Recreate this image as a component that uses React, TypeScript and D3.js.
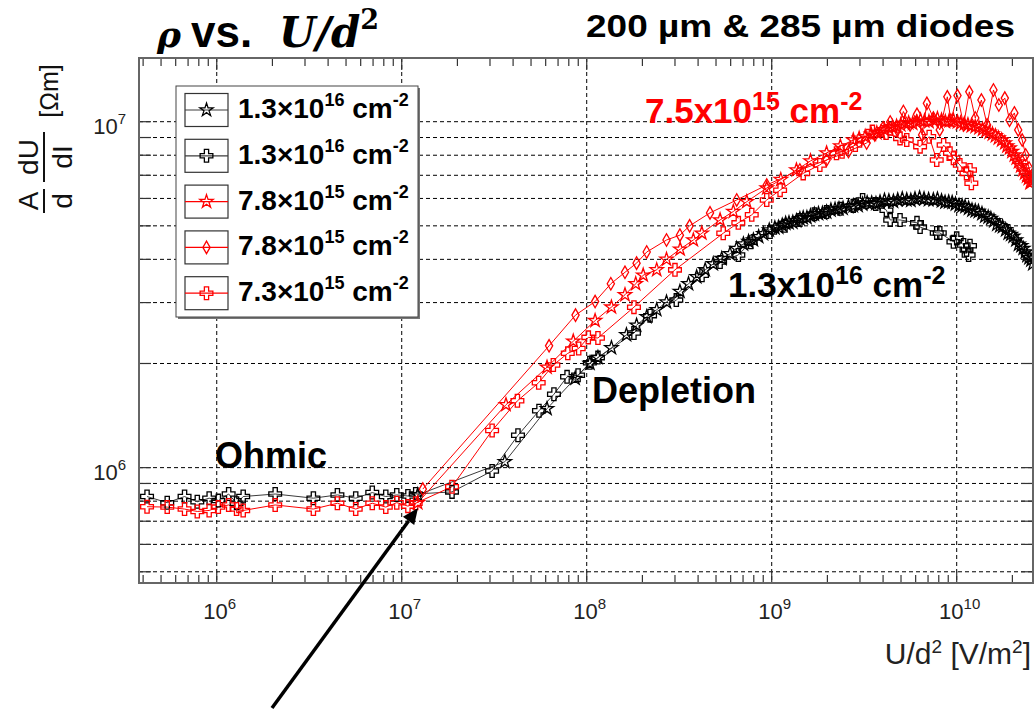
import React from 'react';
import * as d3 from 'd3';

type Pt = [number, number]; // [U/d^2 in V/m^2, rho in Ohm*m]

// 1.3e16 cm^-2, star markers
const blackStars: Pt[] = [
  [1.22e7, 8.34e5], [3.61e7, 1.04e6], [6.1e7, 1.48e6], [8.65e7, 1.81e6], [1.04e8, 2.0e6],
  [1.15e8, 2.08e6], [1.36e8, 2.22e6], [1.64e8, 2.42e6], [1.86e8, 2.58e6], [2.11e8, 2.73e6],
  [2.39e8, 2.86e6], [2.7e8, 3.01e6], [3.19e8, 3.23e6], [3.55e8, 3.4e6], [3.93e8, 3.56e6],
  [4.37e8, 3.73e6], [4.83e8, 3.88e6], [5.37e8, 4.02e6], [5.95e8, 4.15e6], [6.45e8, 4.3e6],
  [7.03e8, 4.43e6], [7.5e8, 4.5e6], [7.96e8, 4.55e6], [8.5e8, 4.65e6], [9.02e8, 4.74e6],
  [9.7e8, 4.86e6], [1.04e9, 4.93e6], [1.09e9, 4.95e6], [1.14e9, 5.02e6], [1.19e9, 5.08e6],
  [1.24e9, 5.1e6], [1.3e9, 5.12e6], [1.36e9, 5.17e6], [1.42e9, 5.24e6], [1.48e9, 5.27e6],
  [1.55e9, 5.28e6], [1.62e9, 5.34e6], [1.7e9, 5.4e6], [1.79e9, 5.42e6], [1.88e9, 5.43e6],
  [1.98e9, 5.48e6], [2.09e9, 5.55e6], [2.2e9, 5.58e6], [2.31e9, 5.6e6], [2.43e9, 5.62e6],
  [2.6e9, 5.68e6], [2.76e9, 5.71e6], [2.93e9, 5.72e6], [3.1e9, 5.78e6], [3.28e9, 5.83e6],
  [3.47e9, 5.82e6], [3.66e9, 5.8e6], [3.85e9, 5.86e6], [4.07e9, 5.92e6], [4.3e9, 5.9e6],
  [4.55e9, 5.88e6], [4.8e9, 5.94e6], [5.08e9, 5.98e6], [5.37e9, 5.94e6], [5.65e9, 5.92e6],
  [5.95e9, 5.98e6], [6.3e9, 6.02e6], [6.66e9, 5.98e6], [7.05e9, 5.95e6], [7.48e9, 5.94e6],
  [7.87e9, 5.97e6], [8.28e9, 5.9e6], [8.65e9, 5.85e6], [9.05e9, 5.86e6], [9.45e9, 5.84e6],
  [9.85e9, 5.78e6], [1.03e10, 5.72e6], [1.07e10, 5.71e6], [1.11e10, 5.68e6], [1.16e10, 5.62e6],
  [1.21e10, 5.55e6], [1.26e10, 5.52e6], [1.31e10, 5.5e6], [1.37e10, 5.42e6], [1.42e10, 5.33e6],
  [1.48e10, 5.3e6], [1.53e10, 5.25e6], [1.59e10, 5.17e6], [1.65e10, 5.05e6], [1.71e10, 5.0e6],
  [1.77e10, 4.97e6], [1.84e10, 4.87e6], [1.9e10, 4.76e6], [1.96e10, 4.72e6], [2.02e10, 4.66e6],
  [2.09e10, 4.55e6], [2.16e10, 4.42e6], [2.23e10, 4.38e6], [2.29e10, 4.3e6], [2.35e10, 4.2e6],
  [2.4e10, 4.1e6], [2.46e10, 4.04e6], [2.52e10, 3.98e6], [2.58e10, 3.88e6],
];

// 1.3e16 cm^-2, cross markers
const blackCrosses: Pt[] = [
  [4.2e5, 8.25e5], [5.4e5, 7.92e5], [6.7e5, 8.25e5], [7.85e5, 7.97e5], [9.1e5, 8.16e5],
  [1.02e6, 8.03e5], [1.16e6, 8.39e5], [1.28e6, 7.89e5], [1.39e6, 8.25e5], [2.07e6, 8.39e5],
  [3.33e6, 8.16e5], [4.49e6, 8.34e5], [5.64e6, 8.16e5], [6.93e6, 8.47e5], [8.2e6, 8.25e5],
  [9.4e6, 8.34e5], [1.08e7, 8.28e5], [1.19e7, 8.39e5], [1.87e7, 8.51e5], [3.08e7, 9.78e5],
  [4.25e7, 1.24e6], [5.52e7, 1.46e6], [6.65e7, 1.63e6], [7.83e7, 1.83e6], [8.98e7, 1.85e6],
  [1.04e8, 2.01e6], [1.15e8, 2.08e6], [1.8e8, 2.45e6], [2.2e8, 2.75e6], [3.05e8, 3.05e6],
  [4.2e8, 3.6e6], [5.26e8, 3.93e6], [6.6e8, 4.12e6], [7.7e8, 4.48e6], [9.8e8, 4.8e6],
  [1.18e9, 5.0e6], [1.42e9, 5.2e6], [1.7e9, 5.4e6], [1.98e9, 5.48e6], [2.34e9, 5.6e6],
  [2.76e9, 5.71e6], [3.1e9, 5.94e6], [3.65e9, 5.78e6], [4.17e9, 5.55e6], [4.37e9, 5.2e6],
  [4.94e9, 5.2e6], [6.1e9, 5.1e6], [6.34e9, 4.96e6], [7.8e9, 4.77e6], [8.1e9, 4.77e6],
  [9.6e9, 4.5e6], [1.0e10, 4.6e6], [1.09e10, 4.4e6], [1.13e10, 4.26e6], [1.18e10, 4.38e6],
  [1.16e10, 4.12e6],
];

// 7.8e15 cm^-2, star markers
const redStars: Pt[] = [
  [1.22e7, 7.91e5], [3.66e7, 1.52e6], [6.1e7, 1.95e6], [8.46e7, 2.32e6], [1.11e8, 2.66e6],
  [1.36e8, 2.91e6], [1.61e8, 3.16e6], [1.84e8, 3.4e6], [2.02e8, 3.6e6], [2.39e8, 3.73e6],
  [2.7e8, 4.0e6], [3.2e8, 4.28e6], [3.77e8, 4.55e6], [4.19e8, 4.76e6], [5.26e8, 5.2e6],
  [6.2e8, 5.5e6], [7.33e8, 5.87e6], [9.4e8, 6.43e6], [1.12e9, 6.8e6], [1.36e9, 7.25e6],
  [1.62e9, 7.7e6], [1.98e9, 8.12e6], [2.35e9, 8.5e6], [2.76e9, 8.85e6], [2.97e9, 8.95e6],
  [3.2e9, 9.05e6], [3.45e9, 9.2e6], [3.7e9, 9.28e6], [3.88e9, 9.3e6], [4.07e9, 9.47e6],
  [4.28e9, 9.6e6], [4.5e9, 9.66e6], [4.73e9, 9.7e6], [4.98e9, 9.79e6], [5.23e9, 9.9e6],
  [5.5e9, 9.92e6], [5.78e9, 9.88e6], [6.07e9, 9.98e6], [6.38e9, 1.01e7], [6.7e9, 1.005e7],
  [7.08e9, 1.0e7], [7.48e9, 1.01e7], [7.87e9, 1.02e7], [8.28e9, 1.01e7], [8.68e9, 1.0e7],
  [9.1e9, 1.005e7], [9.6e9, 1.01e7], [1.01e10, 9.98e6], [1.05e10, 9.9e6], [1.1e10, 9.85e6],
  [1.15e10, 9.8e6], [1.2e10, 9.72e6], [1.26e10, 9.68e6], [1.32e10, 9.6e6], [1.38e10, 9.5e6],
  [1.44e10, 9.4e6], [1.5e10, 9.32e6], [1.56e10, 9.21e6], [1.62e10, 9.1e6], [1.68e10, 8.97e6],
  [1.75e10, 8.85e6], [1.82e10, 8.68e6], [1.87e10, 8.5e6], [1.93e10, 8.39e6], [1.99e10, 8.2e6],
  [2.05e10, 8.01e6], [2.1e10, 7.85e6], [2.16e10, 7.65e6], [2.22e10, 7.45e6], [2.28e10, 7.25e6],
  [2.33e10, 7.1e6], [2.39e10, 6.96e6], [2.44e10, 6.85e6], [2.49e10, 6.65e6], [2.53e10, 6.7e6],
  [2.58e10, 6.79e6],
];

// 7.8e15 cm^-2, diamond markers
const redDiamonds: Pt[] = [
  [1.3e7, 8.67e5], [6.26e7, 2.25e6], [8.7e7, 2.76e6], [1.11e8, 3.02e6], [1.35e8, 3.4e6],
  [1.61e8, 3.67e6], [1.86e8, 3.9e6], [2.11e8, 4.2e6], [2.7e8, 4.55e6], [3.19e8, 4.7e6],
  [3.6e8, 5.0e6], [4.64e8, 5.45e6], [6.47e8, 5.94e6], [9.4e8, 6.56e6], [1.42e9, 7.25e6],
  [1.98e9, 7.75e6], [2.6e9, 8.2e6], [3.26e9, 8.68e6], [3.61e9, 9.16e6], [4.0e9, 9.6e6],
  [4.37e9, 9.98e6], [4.78e9, 9.47e6], [5.15e9, 1.07e7], [5.6e9, 9.79e6], [6.1e9, 1.05e7],
  [6.5e9, 9.16e6], [6.9e9, 1.13e7], [7.48e9, 1.025e7], [8.1e9, 9.47e6], [8.9e9, 1.18e7],
  [9.3e9, 1.01e7], [1.01e10, 1.19e7], [1.09e10, 9.79e6], [1.17e10, 1.22e7], [1.26e10, 1.025e7],
  [1.36e10, 1.155e7], [1.46e10, 9.79e6], [1.58e10, 1.235e7], [1.69e10, 1.117e7], [1.82e10, 1.17e7],
  [1.93e10, 1.01e7], [2.05e10, 1.06e7], [2.15e10, 9.47e6], [2.26e10, 8.85e6], [2.36e10, 8.01e6],
  [2.46e10, 7.35e6], [2.55e10, 6.88e6],
];

// 7.3e15 cm^-2, cross markers
const redCrosses: Pt[] = [
  [4.2e5, 7.71e5], [5.4e5, 7.69e5], [6.7e5, 7.59e5], [7.85e5, 7.47e5], [9.1e5, 7.52e5],
  [1.02e6, 7.69e5], [1.16e6, 7.8e5], [1.28e6, 7.59e5], [1.39e6, 7.52e5], [2.07e6, 7.8e5],
  [3.33e6, 7.59e5], [4.49e6, 7.89e5], [5.64e6, 7.59e5], [6.93e6, 7.89e5], [8.2e6, 7.69e5],
  [9.4e6, 7.92e5], [1.08e7, 7.74e5], [1.19e7, 7.89e5], [1.87e7, 8.81e5], [3.08e7, 1.28e6],
  [4.22e7, 1.56e6], [5.5e7, 1.76e6], [6.6e7, 1.98e6], [7.9e7, 2.14e6], [9.05e7, 2.21e6],
  [1.02e8, 2.38e6], [1.15e8, 2.37e6], [1.8e8, 2.91e6], [3.0e8, 3.73e6], [5.47e8, 4.76e6],
  [6.6e8, 5.1e6], [7.8e8, 5.38e6], [9.4e8, 5.94e6], [1.11e9, 6.34e6], [1.48e9, 7.09e6],
  [1.82e9, 7.5e6], [2.24e9, 8.11e6], [2.4e9, 8.19e6], [2.83e9, 8.56e6], [3.5e9, 9.36e6],
  [4.15e9, 9.28e6], [4.94e9, 8.95e6], [5.37e9, 8.85e6], [6.34e9, 8.47e6], [7.1e9, 9.05e6],
  [7.8e9, 7.75e6], [8.5e9, 8.56e6], [9.2e9, 8.11e6], [9.6e9, 7.84e6], [1.04e10, 7.5e6],
  [1.13e10, 7.09e6], [1.18e10, 7.25e6], [1.2e10, 6.64e6],
];

const legendMantissa = ['1.3', '1.3', '7.8', '7.8', '7.3'];
const legendExponent = ['16', '16', '15', '15', '15'];

const xDomain: [number, number] = [3.8e5, 2.585e10];
const yDomain: [number, number] = [4.64e5, 1.528e7];

const RED = '#ff0000';
const BLACK = '#000000';

const W = 1036;
const H = 723;
const PL = 139, PR = 1033, PT = 58, PB = 583;

const SANS = 'Arial, "Liberation Sans", Helvetica, sans-serif';
const NARROW = '"Liberation Sans Narrow", "Arial Narrow", "Liberation Sans", Arial, sans-serif';
const MATH = '"DejaVu Serif", "Liberation Serif", serif';

const series = [
  { data: blackStars, color: BLACK, line: '#3c3c3c', type: d3.symbolStar, size: 55 },
  { data: blackCrosses, color: BLACK, line: '#3c3c3c', type: d3.symbolCross, size: 90 },
  { data: redStars, color: RED, line: RED, type: d3.symbolStar, size: 55 },
  { data: redDiamonds, color: RED, line: RED, type: d3.symbolDiamond, size: 45 },
  { data: redCrosses, color: RED, line: RED, type: d3.symbolCross, size: 90 },
];

const isDecade = (v: number) => Math.abs(Math.log10(v) - Math.round(Math.log10(v))) < 1e-9;

export default function App() {
  const x = d3.scaleLog().domain(xDomain).range([PL, PR]);
  const y = d3.scaleLog().domain(yDomain).range([PB, PT]);
  const xTicks = x.ticks();
  const yTicks = y.ticks();
  const xMajor = xTicks.filter(isDecade);
  const yMajor = yTicks.filter(isDecade);

  const line = d3.line<Pt>().x(d => x(d[0])).y(d => y(d[1]));

  const legendRows = series.map((s, i) => ({ ...s, cy: 110 + i * 45.8, mant: legendMantissa[i], exp: legendExponent[i] }));

  // arrow pointing at the onset of the depletion regime
  const ax0 = 272, ay0 = 708, ax1 = 418, ay1 = 508;
  const ang = Math.atan2(ay1 - ay0, ax1 - ax0);
  const hl = 16, hw = 7;
  const bx = ax1 - hl * Math.cos(ang), by = ay1 - hl * Math.sin(ang);
  const head = [
    [ax1, ay1],
    [bx + hw * Math.sin(ang), by - hw * Math.cos(ang)],
    [bx - hw * Math.sin(ang), by + hw * Math.cos(ang)],
  ];

  return (
    <svg width={W} height={H} viewBox={`0 0 ${W} ${H}`} style={{ position: 'absolute', left: 0, top: 0, background: '#fff' }}>
      <defs>
        <clipPath id="plotClip">
          <rect x={PL} y={PT} width={PR - PL} height={PB - PT} />
        </clipPath>
      </defs>
      <rect x={0} y={0} width={W} height={H} fill="#fff" />

      {/* grid */}
      <g stroke="#000" strokeWidth={1} strokeDasharray="4,3" fill="none">
        {yTicks.map((t, i) => (
          <line key={'gy' + i} x1={PL} x2={PR} y1={y(t)} y2={y(t)} />
        ))}
        {xMajor.map((t, i) => (
          <line key={'gx' + i} x1={x(t)} x2={x(t)} y1={PT} y2={PB} />
        ))}
      </g>

      {/* ticks */}
      <g stroke="#333" strokeWidth={1.2}>
        {yTicks.map((t, i) => (
          <g key={'ty' + i}>
            <line x1={PL} x2={PL + 12} y1={y(t)} y2={y(t)} />
            <line x1={PR - 12} x2={PR} y1={y(t)} y2={y(t)} />
          </g>
        ))}
        {xTicks.map((t, i) => {
          const len = isDecade(t) ? 12 : 8;
          return (
            <g key={'tx' + i}>
              <line x1={x(t)} x2={x(t)} y1={PB} y2={PB - len} />
              <line x1={x(t)} x2={x(t)} y1={PT} y2={PT + len} />
            </g>
          );
        })}
      </g>

      {/* data */}
      <g clipPath="url(#plotClip)">
        {series.map((s, i) => (
          <path key={'l' + i} d={line(s.data) || ''} fill="none" stroke={s.line} strokeWidth={1} />
        ))}
        {series.map((s, i) => {
          const p = d3.symbol().type(s.type).size(s.size)() || '';
          return (
            <g key={'m' + i} fill="none" stroke={s.color} strokeWidth={1.3}>
              {s.data.map((d, j) => (
                <path key={j} d={p} transform={`translate(${x(d[0])},${y(d[1])})`} />
              ))}
            </g>
          );
        })}
      </g>

      {/* frame */}
      <rect x={PL} y={PT} width={PR - PL} height={PB - PT} fill="none" stroke="#666" strokeWidth={2} />

      {/* y tick labels */}
      <g fontFamily={NARROW} fontSize={22} fill="#222">
        {yMajor.map((t, i) => (
          <text key={'yl' + i} x={126} y={y(t) + 12} textAnchor="end">
            10<tspan fontSize={15} dy={-10}>{Math.round(Math.log10(t))}</tspan>
          </text>
        ))}
      </g>
      {/* x tick labels */}
      <g fontFamily={NARROW} fontSize={22} fill="#222">
        {xMajor.map((t, i) => (
          <text key={'xl' + i} x={x(t) + 3} y={619} textAnchor="middle">
            10<tspan fontSize={15} dy={-10}>{Math.round(Math.log10(t))}</tspan>
          </text>
        ))}
      </g>

      {/* axis titles */}
      <text x={1031} y={664} textAnchor="end" fontFamily={NARROW} fontSize={30} fill="#222">
        U/d<tspan fontSize={19} dy={-11}>2</tspan>
        <tspan dy={11}> [V/m</tspan>
        <tspan fontSize={19} dy={-11}>2</tspan>
        <tspan dy={11}>]</tspan>
      </text>
      <g transform="rotate(-90)" fontFamily={SANS} fill="#111">
        <text x={-201} y={38} textAnchor="middle" fontSize={28}>A</text>
        <line x1={-213} x2={-189} y1={44} y2={44} stroke="#111" strokeWidth={2} />
        <text x={-201} y={72} textAnchor="middle" fontSize={28}>d</text>
        <text x={-157} y={38} textAnchor="middle" fontSize={28}>dU</text>
        <line x1={-182} x2={-132} y1={44} y2={44} stroke="#111" strokeWidth={2} />
        <text x={-157} y={72} textAnchor="middle" fontSize={28}>dI</text>
        <text x={-91} y={58} textAnchor="middle" fontSize={25}>[Ωm]</text>
      </g>

      {/* legend */}
      <g>
        <rect x={178} y={88} width={242} height={231} fill="#777" />
        <rect x={176} y={86} width={242} height={231} fill="#fff" stroke="#444" strokeWidth={1} />
        {legendRows.map((r, i) => {
          const p = d3.symbol().type(r.type).size(r.size)() || '';
          return (
            <g key={'lg' + i}>
              <rect x={185} y={r.cy - 16.5} width={43} height={33} fill="#fff" stroke="#333" strokeWidth={1.2} />
              <line x1={185} x2={228} y1={r.cy} y2={r.cy} stroke={r.line} strokeWidth={1.2} />
              <path d={p} transform={`translate(206.5,${r.cy})`} fill="none" stroke={r.color} strokeWidth={1.3} />
              <text x={238} y={r.cy + 8} fontFamily={SANS} fontWeight="bold" fontSize={28} fill="#000">
                {r.mant}×10<tspan fontSize={18} dy={-12}>{r.exp}</tspan>
                <tspan dy={12}> cm</tspan>
                <tspan fontSize={18} dy={-12}>-2</tspan>
              </text>
            </g>
          );
        })}
      </g>

      {/* annotations */}
      <g fontFamily={SANS} fontWeight="bold">
        <text x={645} y={123} fontSize={35} fill={RED}>
          7.5x10<tspan fontSize={25} dy={-13}>15</tspan>
          <tspan dy={13}> cm</tspan>
          <tspan fontSize={25} dy={-13}>-2</tspan>
        </text>
        <text x={728} y={297} fontSize={35} fill="#000">
          1.3x10<tspan fontSize={25} dy={-13}>16</tspan>
          <tspan dy={13}> cm</tspan>
          <tspan fontSize={25} dy={-13}>-2</tspan>
        </text>
        <text x={592} y={403} fontSize={36} fill="#000">Depletion</text>
        <text x={215} y={468} fontSize={36} fill="#000">Ohmic</text>
      </g>

      {/* titles */}
      <g fill="#000">
        <text x={157} y={47} fontFamily={MATH} fontWeight="bold" fontStyle="italic" fontSize={36}>ρ</text>
        <text x={191} y={47} fontFamily={SANS} fontWeight="bold" fontSize={44}>vs.</text>
        <text x={279} y={47} fontFamily={MATH} fontWeight="bold" fontStyle="italic" fontSize={42}>
          U/d<tspan fontStyle="normal" fontSize={27} dy={-18}>2</tspan>
        </text>
        <text x={586} y={37} fontFamily={SANS} fontWeight="bold" fontSize={31} textLength={429} lengthAdjust="spacingAndGlyphs">
          200 µm &amp; 285 µm diodes
        </text>
      </g>

      {/* arrow */}
      <line x1={ax0} y1={ay0} x2={bx} y2={by} stroke="#000" strokeWidth={3.5} />
      <polygon points={head.map(p => p.join(',')).join(' ')} fill="#000" />
    </svg>
  );
}
